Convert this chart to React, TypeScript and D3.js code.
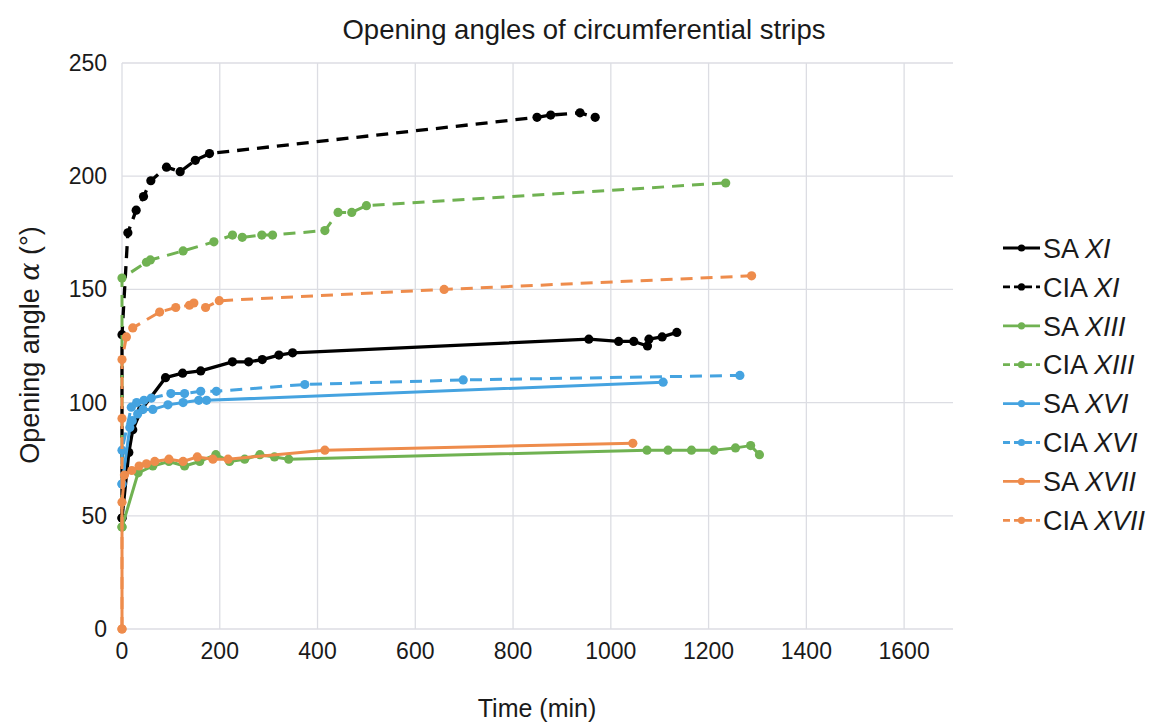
import React, { useEffect, useRef } from 'react';
import * as d3 from 'd3';

// tick labels
const xTicks = [0, 200, 400, 600, 800, 1000, 1200, 1400, 1600];
const yTicks = [0, 50, 100, 150, 200, 250];

// SA XI
const saXITime = [0, 14, 22, 40, 89, 124, 161, 226, 259, 287, 321, 349, 955, 1016, 1047, 1075, 1078, 1105, 1135];
const saXIAngle = [49, 78, 88, 97, 111, 113, 114, 118, 118, 119, 121, 122, 128, 127, 127, 125, 128, 129, 131];
// CIA XI
const ciaXITime = [0, 0, 12, 29, 44, 59, 91, 119, 150, 179, 849, 877, 937, 968];
const ciaXIAngle = [49, 130, 175, 185, 191, 198, 204, 202, 207, 210, 226, 227, 228, 226];
// SA XIII
const saXIIITime = [0, 33, 63, 96, 128, 159, 192, 220, 251, 282, 312, 341, 1074, 1117, 1165, 1211, 1255, 1286, 1304];
const saXIIIAngle = [45, 69, 72, 74, 72, 74, 77, 74, 75, 77, 76, 75, 79, 79, 79, 79, 80, 81, 77];
// CIA XIII
const ciaXIIITime = [0, 0, 50, 58, 125, 188, 226, 246, 286, 308, 415, 442, 470, 500, 1235];
const ciaXIIIAngle = [45, 155, 162, 163, 167, 171, 174, 173, 174, 174, 176, 184, 184, 187, 197];
// SA XVI
const saXVITime = [0, 16, 21, 32, 43, 63, 94, 125, 157, 173, 1107];
const saXVIAngle = [64, 89, 92, 95, 97, 97, 99, 100, 101, 101, 109];
// CIA XVI
const ciaXVITime = [0, 0, 19, 30, 45, 60, 100, 128, 161, 193, 374, 698, 1264];
const ciaXVIAngle = [64, 79, 98, 100, 101, 102, 104, 104, 105, 105, 108, 110, 112];
// SA XVII
const saXVIITime = [0, 0, 5, 20, 35, 50, 67, 96, 125, 154, 186, 217, 415, 1045];
const saXVIIAngle = [0, 56, 68, 70, 72, 73, 74, 75, 74, 76, 75, 75, 79, 82];
// CIA XVII
const ciaXVIITime = [0, 0, 0, 9, 22, 77, 110, 138, 147, 171, 199, 659, 1288];
const ciaXVIIAngle = [0, 93, 119, 129, 133, 140, 142, 143, 144, 142, 145, 150, 156];

const seriesKinds = ['SA', 'CIA', 'SA', 'CIA', 'SA', 'CIA', 'SA', 'CIA'];
const seriesNumerals = ['XI', 'XI', 'XIII', 'XIII', 'XVI', 'XVI', 'XVII', 'XVII'];
const seriesColors = ['#000000', '#000000', '#70b252', '#70b252', '#45a3e0', '#45a3e0', '#ee8c4c', '#ee8c4c'];
const seriesTimes = [saXITime, ciaXITime, saXIIITime, ciaXIIITime, saXVITime, ciaXVITime, saXVIITime, ciaXVIITime];
const seriesAngles = [saXIAngle, ciaXIAngle, saXIIIAngle, ciaXIIIAngle, saXVIAngle, ciaXVIAngle, saXVIIAngle, ciaXVIIAngle];

const FONT = '"Liberation Sans", Arial, sans-serif';

export default function App() {
  const ref = useRef<SVGSVGElement | null>(null);

  const width = 1160;
  const height = 725;
  const margin = { top: 63, right: 207, bottom: 96, left: 122 };

  useEffect(() => {
    drawChart();
  }, []);

  function drawChart() {
    const svg = d3.select(ref.current);
    svg.selectAll('*').remove();

    const x = d3.scaleLinear().domain([0, 1700]).range([margin.left, width - margin.right]);
    const y = d3.scaleLinear().domain([0, 250]).range([height - margin.bottom, margin.top]);

    svg.append('rect').attr('width', width).attr('height', height).attr('fill', '#ffffff');

    // grid
    const grid = svg.append('g').attr('stroke', '#dcdde3').attr('stroke-width', 1.3);
    grid.selectAll('line.h')
      .data(yTicks)
      .enter()
      .append('line')
      .attr('x1', x(0))
      .attr('x2', x(1700))
      .attr('y1', (d) => y(d))
      .attr('y2', (d) => y(d));
    grid.selectAll('line.v')
      .data(xTicks)
      .enter()
      .append('line')
      .attr('x1', (d) => x(d))
      .attr('x2', (d) => x(d))
      .attr('y1', y(0))
      .attr('y2', y(250));

    // tick labels
    svg.append('g')
      .selectAll('text')
      .data(yTicks)
      .enter()
      .append('text')
      .attr('x', x(0) - 15)
      .attr('y', (d) => y(d))
      .attr('dy', '0.35em')
      .attr('text-anchor', 'end')
      .style('font-family', FONT)
      .style('font-size', '23px')
      .style('fill', '#1a1a1a')
      .text((d) => d);

    svg.append('g')
      .selectAll('text')
      .data(xTicks)
      .enter()
      .append('text')
      .attr('x', (d) => x(d))
      .attr('y', y(0) + 30)
      .attr('text-anchor', 'middle')
      .style('font-family', FONT)
      .style('font-size', '23px')
      .style('fill', '#1a1a1a')
      .text((d) => d);

    // titles
    svg.append('text')
      .attr('x', 584)
      .attr('y', 39)
      .attr('text-anchor', 'middle')
      .style('font-family', FONT)
      .style('font-size', '27.5px')
      .style('fill', '#1a1a1a')
      .text('Opening angles of circumferential strips');

    svg.append('text')
      .attr('x', 537)
      .attr('y', 717)
      .attr('text-anchor', 'middle')
      .style('font-family', FONT)
      .style('font-size', '25px')
      .style('fill', '#1a1a1a')
      .text('Time (min)');

    const yTitle = svg.append('text')
      .attr('transform', 'translate(39, 345) rotate(-90)')
      .attr('text-anchor', 'middle')
      .style('font-family', FONT)
      .style('font-size', '27px')
      .style('fill', '#1a1a1a');
    yTitle.append('tspan').text('Opening angle ');
    yTitle.append('tspan').style('font-style', 'italic').style('font-family', '"DejaVu Serif", serif').text('α');
    yTitle.append('tspan').text(' (°)');

    const line = d3.line<[number, number]>()
      .x((d) => x(d[0]))
      .y((d) => y(d[1]));

    seriesTimes.forEach((times, i) => {
      const pts: [number, number][] = times.map((t, j) => [t, seriesAngles[i][j]]);
      const dashed = seriesKinds[i] === 'CIA';
      const g = svg.append('g');
      g.append('path')
        .attr('d', line(pts))
        .attr('fill', 'none')
        .attr('stroke', seriesColors[i])
        .attr('stroke-width', i < 2 ? 3.3 : 3)
        .attr('stroke-dasharray', dashed ? '12,8' : null)
        .attr('stroke-linejoin', 'round');
      g.selectAll('circle')
        .data(pts)
        .enter()
        .append('circle')
        .attr('cx', (d) => x(d[0]))
        .attr('cy', (d) => y(d[1]))
        .attr('r', 4.6)
        .attr('fill', seriesColors[i]);
    });

    // legend
    const legend = svg.append('g');
    seriesKinds.forEach((kind, i) => {
      const ly = 248 + i * 38.9;
      legend.append('line')
        .attr('x1', 1003)
        .attr('x2', 1040)
        .attr('y1', ly)
        .attr('y2', ly)
        .attr('stroke', seriesColors[i])
        .attr('stroke-width', 2.8)
        .attr('stroke-dasharray', kind === 'CIA' ? '7,4' : null);
      legend.append('circle')
        .attr('cx', 1021.5)
        .attr('cy', ly)
        .attr('r', 3.6)
        .attr('fill', seriesColors[i]);
      const t = legend.append('text')
        .attr('x', 1043)
        .attr('y', ly)
        .attr('dy', '0.36em')
        .style('font-family', FONT)
        .style('font-size', '27px')
        .style('fill', '#1a1a1a');
      t.append('tspan').text(kind + ' ');
      t.append('tspan').style('font-style', 'italic').text(seriesNumerals[i]);
    });
  }

  return (
    <svg
      ref={ref}
      width={width}
      height={height}
      style={{ position: 'absolute', left: 0, top: 0, display: 'block' }}
    />
  );
}
